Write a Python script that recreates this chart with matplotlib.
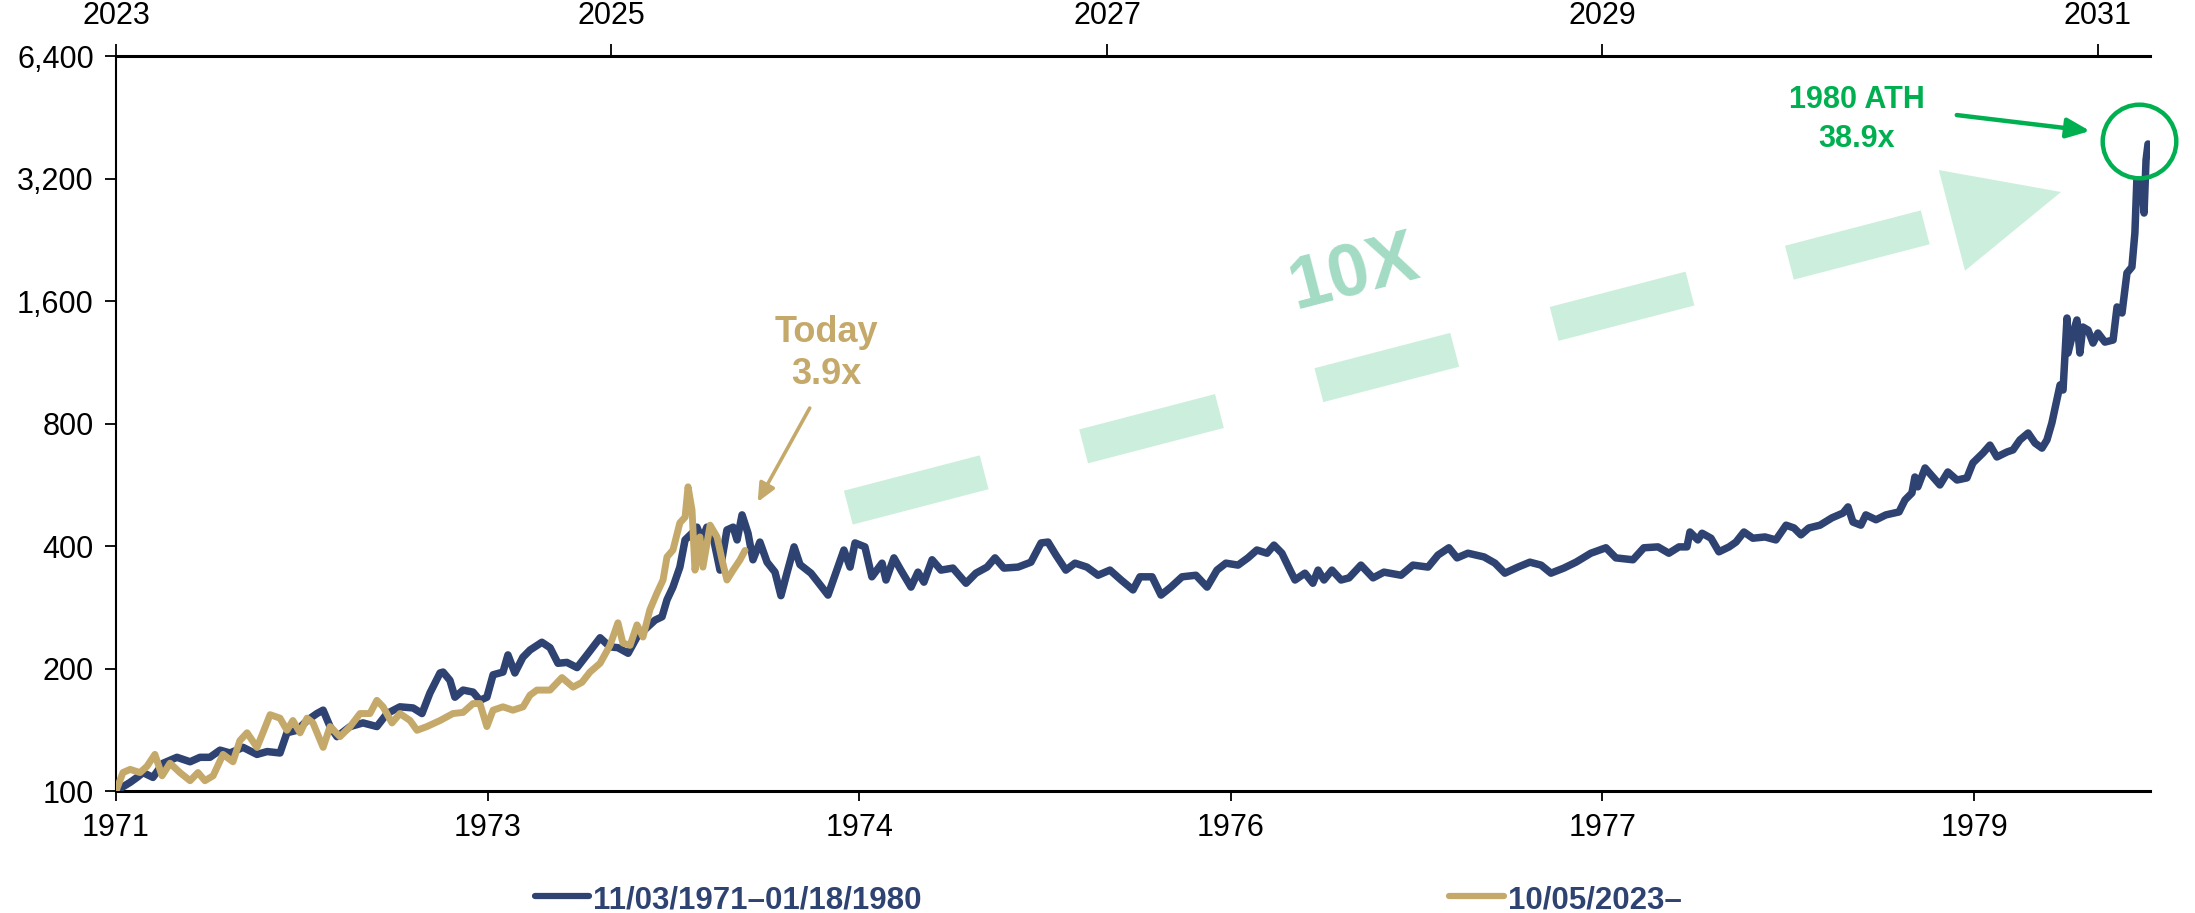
import numpy as np
import matplotlib
matplotlib.use('Agg')
import matplotlib.pyplot as plt
from matplotlib.patches import Polygon
from matplotlib.lines import Line2D
from matplotlib.transforms import IdentityTransform
from matplotlib.ticker import NullLocator

plt.rcParams['font.family'] = ['Liberation Sans', 'DejaVu Sans']
TICK_FS = 22
LEG_FS = 22.5

# ---------------- data (x = years since series start) ----------------
blue_t = [0.000, 0.057, 0.085, 0.109, 0.149, 0.190, 0.246, 0.299, 0.339, 0.379,
          0.420, 0.460, 0.513, 0.569, 0.610, 0.662, 0.690, 0.731, 0.771, 0.811,
          0.836, 0.864, 0.892, 0.945, 0.997, 1.053, 1.094, 1.146, 1.199, 1.235,
          1.267, 1.308, 1.320, 1.348, 1.368, 1.401, 1.441, 1.469, 1.497, 1.522,
          1.562, 1.582, 1.610, 1.642, 1.671, 1.719, 1.752, 1.784, 1.820, 1.861,
          1.901, 1.954, 1.994, 2.026, 2.067, 2.103, 2.143, 2.176, 2.204, 2.224,
          2.248, 2.276, 2.297, 2.325, 2.345, 2.365, 2.385, 2.410, 2.438, 2.466,
          2.491, 2.507, 2.527, 2.551, 2.571, 2.599, 2.628, 2.660, 2.684, 2.708,
          2.737, 2.761, 2.805, 2.837, 2.874, 2.914, 2.938, 2.963, 2.983, 3.023,
          3.051, 3.092, 3.108, 3.140, 3.168, 3.209, 3.237, 3.261, 3.294, 3.330,
          3.378, 3.431, 3.471, 3.516, 3.548, 3.584, 3.641, 3.693, 3.734, 3.762,
          3.794, 3.834, 3.871, 3.919, 3.964, 4.012, 4.057, 4.105, 4.133, 4.182,
          4.218, 4.258, 4.303, 4.359, 4.404, 4.444, 4.480, 4.529, 4.569, 4.605,
          4.646, 4.674, 4.706, 4.739, 4.759, 4.799, 4.831, 4.852, 4.876, 4.908,
          4.945, 4.977, 5.025, 5.074, 5.118, 5.187, 5.235, 5.296, 5.336, 5.380,
          5.413, 5.457, 5.522, 5.566, 5.606, 5.659, 5.707, 5.752, 5.792, 5.844,
          5.893, 5.953, 6.014, 6.054, 6.123, 6.167, 6.224, 6.268, 6.309, 6.341,
          6.353, 6.385, 6.402, 6.438, 6.470, 6.511, 6.539, 6.571, 6.607, 6.656,
          6.700, 6.741, 6.773, 6.801, 6.833, 6.878, 6.926, 6.971, 6.991, 7.011,
          7.043, 7.063, 7.104, 7.144, 7.197, 7.221, 7.249, 7.261, 7.273, 7.302,
          7.334, 7.362, 7.394, 7.431, 7.471, 7.495, 7.536, 7.564, 7.592, 7.633,
          7.657, 7.685, 7.718, 7.746, 7.774, 7.794, 7.814, 7.834, 7.847, 7.859,
          7.867, 7.875, 7.879, 7.899, 7.915, 7.927, 7.939, 7.960, 7.980, 8.000,
          8.028, 8.061, 8.077, 8.097, 8.117, 8.137, 8.149, 8.157, 8.178, 8.186,
          8.194, 8.202]
blue_v = [100, 105, 108, 111, 108, 117, 121, 118, 121, 121,
          126, 124, 128, 123, 125, 124, 139, 141, 149, 155,
          158, 144, 136, 144, 147, 144, 155, 161, 160, 155,
          174, 195, 196, 187, 170, 177, 175, 167, 170, 193,
          196, 216, 195, 213, 222, 232, 225, 206, 207, 201,
          216, 238, 226, 225, 218, 239, 252, 263, 268, 295,
          317, 355, 414, 430, 445, 414, 445, 421, 349, 438,
          445, 414, 477, 430, 370, 409, 365, 345, 302, 343,
          398, 360, 343, 324, 303, 355, 391, 355, 407, 398,
          336, 363, 330, 374, 349, 317, 345, 326, 370, 349,
          353, 324, 343, 355, 374, 353, 355, 365, 407, 409,
          380, 349, 363, 355, 339, 349, 330, 312, 336, 336,
          303, 317, 336, 339, 317, 349, 363, 359, 374, 391,
          384, 402, 384, 349, 330, 343, 324, 349, 330, 349,
          330, 334, 359, 334, 345, 339, 359, 355, 380, 396,
          374, 384, 376, 363, 343, 355, 365, 359, 343, 353,
          365, 384, 396, 374, 370, 396, 398, 384, 398, 398,
          433, 414, 430, 418, 387, 398, 409, 433, 418, 421,
          414, 450, 443, 426, 443, 450, 469, 482, 499, 458,
          450, 477, 464, 477, 485, 519, 540, 591, 559, 622,
          591, 565, 608, 581, 588, 640, 677, 708, 662, 681,
          689, 729, 758, 716, 696, 729, 803, 914, 995, 967,
          1192, 1453, 1192, 1335, 1437, 1192, 1381, 1357, 1261, 1335,
          1268, 1283, 1547, 1495, 1875, 1940, 2351, 3174, 3119, 2632,
          3553, 3890]

gold_t = [0.000, 0.028, 0.057, 0.097, 0.125, 0.157, 0.186, 0.218, 0.258, 0.299,
          0.331, 0.359, 0.392, 0.432, 0.472, 0.500, 0.529, 0.569, 0.593, 0.622,
          0.662, 0.690, 0.714, 0.743, 0.771, 0.795, 0.836, 0.864, 0.904, 0.945,
          0.985, 1.025, 1.053, 1.078, 1.114, 1.146, 1.187, 1.215, 1.255, 1.308,
          1.360, 1.401, 1.441, 1.469, 1.497, 1.522, 1.562, 1.602, 1.643, 1.671,
          1.699, 1.752, 1.800, 1.845, 1.881, 1.913, 1.954, 1.994, 2.026, 2.046,
          2.075, 2.103, 2.127, 2.155, 2.184, 2.208, 2.224, 2.248, 2.276, 2.297,
          2.309, 2.325, 2.337, 2.357, 2.369, 2.398, 2.426, 2.446, 2.466, 2.491,
          2.519, 2.539]
gold_v = [100, 111, 113, 111, 115, 123, 109, 117, 111, 106,
          111, 106, 109, 123, 118, 133, 139, 128, 139, 154,
          151, 141, 149, 139, 151, 147, 128, 144, 136, 144,
          155, 155, 167, 161, 147, 155, 149, 141, 144, 149,
          155, 156, 164, 164, 144, 158, 161, 158, 161, 172,
          177, 177, 190, 180, 185, 196, 206, 228, 259, 231,
          228, 256, 239, 279, 307, 330, 376, 391, 456, 471,
          559, 490, 349, 421, 355, 450, 421, 370, 330, 349,
          370, 390]

bottom_ticks = [0.0, 1.5, 3.0, 4.5, 6.0, 7.5]
bottom_labels = ['1971', '1973', '1974', '1976', '1977', '1979']
top_ticks = [0, 2, 4, 6, 8]
top_labels = ['2023', '2025', '2027', '2029', '2031']
y_ticks = [100, 200, 400, 800, 1600, 3200, 6400]
y_labels = ['100', '200', '400', '800', '1,600', '3,200', '6,400']
legend_labels = ['11/03/1971\u201301/18/1980', '10/05/2023\u2013']

NAVY = '#2E4371'
GOLD = '#C5A96A'
GREEN = '#00B050'
LIGHT = '#CCEFDD'
TEXT10X = '#A3DBC4'

W, H = 2195, 913
fig = plt.figure(figsize=(W / 100, H / 100), dpi=100)
ax = fig.add_axes([116 / W, 1 - 791 / H, (2150 - 116) / W, (791 - 56) / H])
ax.set_yscale('log', base=2)
ax.set_ylim(100, 6400)
ax.set_xlim(0, 8.21)

ax.plot(blue_t, blue_v, color=NAVY, lw=5.4, solid_joinstyle='round',
        solid_capstyle='round', zorder=3)
ax.plot(gold_t, gold_v, color=GOLD, lw=5.0, solid_joinstyle='round',
        solid_capstyle='round', zorder=4)

ax.set_yticks(y_ticks)
ax.set_yticklabels(y_labels, fontsize=TICK_FS)
ax.yaxis.set_minor_locator(NullLocator())
ax.set_xticks(bottom_ticks)
ax.set_xticklabels(bottom_labels, fontsize=TICK_FS)
ax.xaxis.set_minor_locator(NullLocator())
ax.tick_params(axis='x', direction='out', length=7, width=1.3, pad=9)
ax.tick_params(axis='y', direction='out', length=8, width=1.3, pad=8)
for s in ['right', 'top']:
    ax.spines[s].set_visible(False)
ax.spines['bottom'].set_linewidth(2.2)
ax.spines['left'].set_linewidth(1.5)

sec = ax.secondary_xaxis('top')
sec.set_xticks(top_ticks)
sec.set_xticklabels(top_labels, fontsize=TICK_FS)
sec.xaxis.set_minor_locator(NullLocator())
sec.tick_params(direction='out', length=9, width=1.3, pad=9)
sec.spines['top'].set_linewidth(2.2)

# ---- annotations ----
ax.text(2.866, 1268, 'Today', ha='center', va='baseline', color=GOLD,
        fontsize=26, fontweight='bold')
ax.text(2.866, 1000, '3.9x', ha='center', va='baseline', color=GOLD,
        fontsize=26, fontweight='bold')
ax.annotate('', xy=(2.59, 513), xytext=(2.80, 873),
            arrowprops=dict(arrowstyle='-|>,head_length=1.1,head_width=0.5',
                            color=GOLD, lw=2.6, shrinkA=0, shrinkB=0))

ax.text(7.027, 4770, '1980 ATH', ha='center', va='baseline', color=GREEN,
        fontsize=22, fontweight='bold')
ax.text(7.027, 3824, '38.9x', ha='center', va='baseline', color=GREEN,
        fontsize=22, fontweight='bold')
ax.annotate('', xy=(7.968, 4187), xytext=(7.43, 4582),
            arrowprops=dict(arrowstyle='-|>,head_length=1.4,head_width=0.6',
                            color=GREEN, lw=3.2, shrinkA=0, shrinkB=0))
ax.plot([8.165], [3950], marker='o', markersize=53, mfc='none',
        mec=GREEN, mew=3.2, zorder=5, clip_on=False)

# ---- big dashed "10X" arrow (anchored in data coords) ----
p0 = ax.transData.transform((2.956, 497))
p1 = ax.transData.transform((7.851, 2965))
d = p1 - p0
L = np.hypot(*d)
u = d / L
n = np.array([-u[1], u[0]])
hw = 17.5
for k in range(5):
    s0 = k * 0.194 * L
    s1 = s0 + 0.112 * L
    pts = [p0 + u * s0 + n * hw, p0 + u * s1 + n * hw,
           p0 + u * s1 - n * hw, p0 + u * s0 - n * hw]
    ax.add_patch(Polygon(pts, closed=True, transform=IdentityTransform(),
                         facecolor=LIGHT, edgecolor='none', zorder=1, clip_on=False))
sb = 0.91 * L
head = [p0 + u * sb + n * 52, p1, p0 + u * sb - n * 52]
ax.add_patch(Polygon(head, closed=True, transform=IdentityTransform(),
                     facecolor=LIGHT, edgecolor='none', zorder=1, clip_on=False))
ang = np.degrees(np.arctan2(d[1], d[0]))
ax.text(4.997, 1875, '10X', ha='center', va='center', rotation=ang,
        rotation_mode='anchor', color=TEXT10X, fontsize=53, fontweight='bold',
        zorder=1)

# ---- legend ----
fig.add_artist(Line2D([535 / W, 589 / W], [1 - 896 / H] * 2, color=NAVY, lw=4.5,
                      solid_capstyle='round', transform=fig.transFigure))
fig.text(593 / W, 1 - 908 / H, legend_labels[0], color=NAVY, fontsize=LEG_FS,
         fontweight='bold', va='baseline', ha='left')
fig.add_artist(Line2D([1449 / W, 1504 / W], [1 - 896 / H] * 2, color=GOLD, lw=4.5,
                      solid_capstyle='round', transform=fig.transFigure))
fig.text(1508 / W, 1 - 908 / H, legend_labels[1], color=NAVY, fontsize=LEG_FS,
         fontweight='bold', va='baseline', ha='left')

fig.savefig('out.png', dpi=100)
